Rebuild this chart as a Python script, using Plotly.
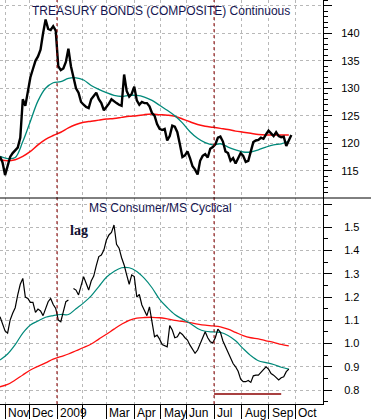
import pandas as pd
import plotly.graph_objects as go

# ---------------- data ----------------
HOLIDAYS = ["2008-11-27", "2008-12-25", "2009-01-01", "2009-01-19", "2009-02-16",
            "2009-04-10", "2009-05-25", "2009-07-03", "2009-09-07"]
START = "2008-10-28"
END = "2009-10-30"

# Treasury bonds, sampled every 2nd trading day from START
bond_close = [117.6, 116.5, 114.2, 115.8, 117.5, 118.2, 118.8, 119.2, 121.0, 128.0,
              126.8, 129.5, 132.0, 133.5, 135.0, 135.8, 137.0, 140.0, 142.5, 140.8,
              140.6, 141.3, 140.5, 134.0, 133.3, 133.6, 134.8, 137.2, 134.0, 132.0,
              130.0, 129.2, 127.5, 127.0, 126.6, 126.4, 128.0, 128.6, 129.2, 128.0,
              127.3, 126.0, 126.5, 127.2, 128.0, 127.6, 127.3, 127.0, 126.8, 132.5,
              129.5, 128.5, 129.0, 130.3, 127.8, 127.0, 127.5, 127.3, 127.3, 126.7,
              125.5, 125.0, 123.5, 122.6, 122.4, 122.6, 120.5, 121.3, 123.2, 123.0,
              122.0, 119.8, 117.5, 117.8, 118.5, 117.3, 115.8, 115.2, 114.3, 116.8,
              117.7, 118.0, 117.4, 119.0, 119.3, 119.8, 121.0, 121.2, 120.3, 118.5,
              118.2, 116.8, 117.3, 116.3, 117.3, 118.2, 117.7, 116.6, 116.8, 118.8,
              120.2, 120.5, 120.6, 121.0, 120.8, 121.6, 122.3, 121.8, 121.3, 122.0,
              121.3, 121.1, 121.2, 119.5, 120.5, 121.5]
# moving averages, sampled every 6th trading day
bond_ma50 = [117.6, 117.2, 117.4, 120.3, 124.0, 127.7, 130.0, 131.0, 131.2, 131.8,
             131.9, 131.5, 130.5, 129.8, 129.2, 128.7, 128.5, 128.7, 128.7, 128.4,
             127.8, 126.9, 126.0, 125.0, 123.7, 122.1, 120.9, 120.1, 119.7, 119.9,
             119.3, 118.8, 118.4, 118.4, 118.8, 119.3, 119.7, 119.9, 120.4]
bond_ma200 = [117.0, 116.8, 117.0, 117.6, 118.5, 119.7, 120.7, 121.4, 122.0, 122.8,
              123.4, 123.8, 124.0, 124.2, 124.4, 124.5, 124.7, 124.9, 125.0, 125.2,
              125.3, 125.2, 125.1, 124.9, 124.4, 123.9, 123.4, 123.1, 122.9, 122.7,
              122.5, 122.2, 122.0, 121.8, 121.6, 121.5, 121.5, 121.5, 121.5]

# MS Consumer / MS Cyclical ratio, every 2nd trading day
ratio = [1.115, 1.082, 1.054, 1.045, 1.101, 1.130, 1.154, 1.209, 1.255, 1.280,
         1.200, 1.194, 1.177, 1.177, 1.134, 1.148, 1.140, 1.120, 1.151, 1.180,
         1.194, 1.168, 1.151, 1.101, 1.094, 1.144, 1.180, 1.187, None, 1.237,
         1.230, 1.209, 1.252, 1.288, 1.259, 1.230, 1.269, 1.290, 1.335, 1.374,
         1.381, 1.402, 1.445, 1.467, 1.478, 1.510, 1.427, 1.410, 1.369, 1.338,
         1.295, 1.255, 1.295, 1.288, 1.200, 1.211, 1.166, 1.140, 1.120, 1.158,
         1.101, 1.029, 1.036, 1.019, 0.996, 0.990, 0.986, 1.077, 1.058, 1.025,
         1.029, 1.048, 1.039, 1.025, 1.015, 0.993, 0.976, 0.958, 0.972, 1.001,
         1.029, 1.051, 1.025, 1.008, 1.003, 1.025, 1.062, 1.048, 1.011, 0.986,
         0.965, 0.943, 0.914, 0.900, 0.881, 0.847, 0.836, 0.836, 0.841, 0.833,
         0.861, 0.864, 0.864, 0.876, 0.886, 0.900, 0.890, 0.871, 0.864, 0.853,
         0.843, 0.853, 0.857, 0.879, 0.890]
ratio_ma50 = [0.929, 0.955, 0.995, 1.045, 1.080, 1.097, 1.113, 1.120, 1.125, 1.125,
              1.150, 1.175, 1.205, 1.245, 1.285, 1.310, 1.326, 1.326, 1.310, 1.280,
              1.240, 1.190, 1.155, 1.125, 1.105, 1.087, 1.065, 1.053, 1.050, 1.048,
              1.035, 1.012, 0.978, 0.948, 0.926, 0.918, 0.910, 0.898, 0.890]
ratio_ma200 = [0.814, 0.824, 0.843, 0.865, 0.886, 0.902, 0.917, 0.933, 0.944, 0.955,
               0.969, 0.983, 0.998, 1.019, 1.040, 1.062, 1.083, 1.100, 1.109, 1.112,
               1.113, 1.111, 1.106, 1.100, 1.095, 1.090, 1.084, 1.079, 1.076, 1.072,
               1.062, 1.048, 1.034, 1.025, 1.020, 1.012, 1.005, 0.996, 0.990]

month_starts = ["2008-11-03", "2008-12-01", "2009-01-02", "2009-02-02", "2009-03-02",
                "2009-04-01", "2009-05-01", "2009-06-01", "2009-07-01", "2009-08-03",
                "2009-09-01", "2009-10-01", "2009-11-02"]
month_labels = ["Nov", "Dec", "2009", "", "Mar", "Apr", "May", "Jun", "Jul", "Aug",
                "Sep", "Oct", ""]
marker_dates = ["2009-01-02", "2009-07-01"]
support_dates = ["2009-07-01", "2009-09-16"]
support_level = 0.783

bond_ticks = [115, 120, 125, 130, 135, 140, 145]
bond_ticktext = ["115", "120", "125", "130", "135", "140", ""]
ratio_ticks = [0.8, 0.9, 1.0, 1.1, 1.2, 1.3, 1.4, 1.5, 1.6]
ratio_ticktext = ["0.8", "0.9", "1.0", "1.1", "1.2", "1.3", "1.4", "1.5", ""]

# ---------------- figure ----------------
days = pd.bdate_range(START, END, freq="C", holidays=HOLIDAYS)
close_dates = days[::2]
ma_dates = days[::6]

TEAL = "#00897a"
RED = "#ff1010"
DARKRED = "#8b0000"
GRID = "#b8b8b8"
FONT = "Liberation Sans, Arial, sans-serif"

fig = go.Figure()
fig.add_trace(go.Scatter(x=ma_dates[:len(bond_ma200)], y=bond_ma200, mode="lines",
                         line=dict(color=RED, width=1.5, shape="spline"), xaxis="x", yaxis="y"))
fig.add_trace(go.Scatter(x=ma_dates[:len(bond_ma50)], y=bond_ma50, mode="lines",
                         line=dict(color=TEAL, width=1.3, shape="spline"), xaxis="x", yaxis="y"))
fig.add_trace(go.Scatter(x=close_dates[:len(bond_close)], y=bond_close, mode="lines",
                         line=dict(color="black", width=2.4), xaxis="x", yaxis="y"))

fig.add_trace(go.Scatter(x=ma_dates[:len(ratio_ma200)], y=ratio_ma200, mode="lines",
                         line=dict(color=RED, width=1.3, shape="spline"), xaxis="x2", yaxis="y2"))
fig.add_trace(go.Scatter(x=ma_dates[:len(ratio_ma50)], y=ratio_ma50, mode="lines",
                         line=dict(color=TEAL, width=1.2, shape="spline"), xaxis="x2", yaxis="y2"))
fig.add_trace(go.Scatter(x=close_dates[:len(ratio)], y=ratio, mode="lines",
                         line=dict(color="black", width=1.2), xaxis="x2", yaxis="y2",
                         connectgaps=False))
fig.add_trace(go.Scatter(x=support_dates, y=[support_level, support_level], mode="lines",
                         line=dict(color=DARKRED, width=1.5), xaxis="x2", yaxis="y2"))

SPLIT = (404 - 198) / 404.0
rb = [dict(bounds=["sat", "mon"]), dict(values=HOLIDAYS)]
xcommon = dict(type="date", range=[START, "2009-10-31"], rangebreaks=rb,
               tickvals=month_starts, showgrid=True, gridcolor=GRID, griddash="3px,3px",
               gridwidth=1, zeroline=False, showticklabels=False)

fig.update_layout(
    width=371, height=420,
    margin=dict(l=0, r=48, t=0, b=16),
    paper_bgcolor="white", plot_bgcolor="white",
    showlegend=False,
    hovermode=False,
    font=dict(family=FONT, size=11, color="black"),
    xaxis=dict(**xcommon, anchor="y", ticks="", showline=False),
    xaxis2=dict(**xcommon, anchor="y2", matches="x", ticks="outside", ticklen=14,
                tickcolor="black", tickwidth=1, showline=True, linecolor="black", linewidth=1),
    yaxis=dict(domain=[SPLIT, 1], side="right", range=[110.03, 146.06],
               tickvals=bond_ticks, ticktext=bond_ticktext, ticks="outside", ticklen=8,
               tickcolor="black", showline=True, linecolor="black", linewidth=1,
               showgrid=True, gridcolor=GRID, griddash="3px,3px", zeroline=False,
               ticklabelstandoff=7,
               minor=dict(dtick=1, ticks="outside", ticklen=4, tickcolor="black", showgrid=False),
               tickfont=dict(size=11, family=FONT)),
    yaxis2=dict(domain=[0, SPLIT], side="right", range=[0.740, 1.626],
                tickvals=ratio_ticks, ticktext=ratio_ticktext, ticks="outside", ticklen=8,
                tickcolor="black", showline=True, linecolor="black", linewidth=1,
                showgrid=True, gridcolor=GRID, griddash="3px,3px", zeroline=False,
                ticklabelstandoff=10,
                minor=dict(dtick=0.05, ticks="outside", ticklen=4, tickcolor="black", showgrid=False),
                tickfont=dict(size=11, family=FONT)),
)

shapes = []
for d in marker_dates:
    shapes.append(dict(type="line", xref="x", yref="paper", x0=d, x1=d, y0=0, y1=1,
                       line=dict(color=DARKRED, width=1, dash="3px,3px")))
shapes.append(dict(type="line", xref="paper", yref="paper", x0=0, x1=371 / 323.0,
                   y0=SPLIT, y1=SPLIT, line=dict(color="black", width=1)))
fig.update_layout(shapes=shapes)

ann = [
    dict(text="TREASURY BONDS (COMPOSITE) Continuous", xref="paper", yref="paper",
         x=0.497, y=1 - 11 / 404.0, showarrow=False, xanchor="center", yanchor="middle",
         font=dict(family=FONT, size=12, color="#141450")),
    dict(text="MS Consumer/MS Cyclical", xref="paper", yref="paper",
         x=0.497, y=(404 - 208) / 404.0, showarrow=False, xanchor="center", yanchor="middle",
         font=dict(family=FONT, size=12, color="#141450")),
    dict(text="<b>lag</b>", xref="paper", yref="paper",
         x=79 / 323.0, y=(404 - 230) / 404.0, showarrow=False, xanchor="center", yanchor="middle",
         font=dict(family="Liberation Serif, Times New Roman, serif", size=14, color="#101030")),
]
for d, lab in zip(month_starts, month_labels):
    if lab:
        ann.append(dict(text=lab, xref="x2", yref="paper", x=d, y=-9 / 404.0,
                        xanchor="left", yanchor="middle", xshift=1, showarrow=False,
                        font=dict(family=FONT, size=12, color="black")))
fig.update_layout(annotations=ann)

fig.write_html("out.html", config={"displayModeBar": False, "staticPlot": True},
               post_script="document.body.style.margin='0';")
